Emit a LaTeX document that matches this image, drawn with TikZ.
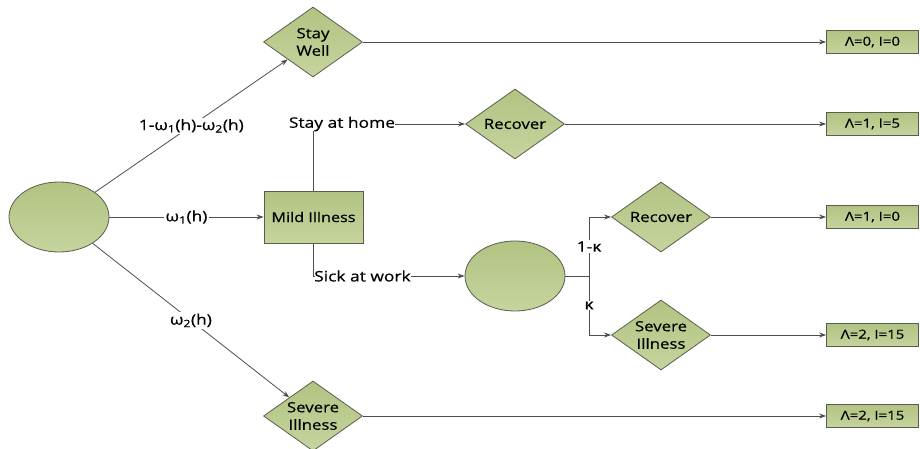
\documentclass[tikz,border=0pt]{standalone}
\usepackage{fontspec}
\setmainfont[FakeStretch=1.2,FakeBold=0.6]{Open Sans}
\usetikzlibrary{positioning}
\usetikzlibrary{shapes.geometric}
\usetikzlibrary {arrows.meta}
\definecolor{leaftop}{RGB}{178,195,130}
\definecolor{leafbot}{RGB}{198,212,158}
\definecolor{leafrim}{RGB}{88,94,76}
\definecolor{wiregrey}{RGB}{78,78,78}
\tikzset{chance/.style={ellipse,draw=leafrim,top color=leaftop,bottom color=leafbot,
line width=0.8pt,minimum width=100pt,minimum height=70pt,inner sep=0pt}}
\tikzset{outcome/.style={diamond,draw=leafrim,top color=leaftop,bottom color=leafbot,
line width=0.8pt,aspect=1.41,minimum width=99pt,minimum height=70pt,inner sep=0pt,
align=center,font=\fontsize{14}{17.5}\selectfont}}
\tikzset{illbox/.style={rectangle,draw=leafrim,top color=leaftop,bottom color=leafbot,
line width=0.8pt,minimum width=99pt,minimum height=52pt,inner sep=0pt,
font=\fontsize{13.5}{17}\selectfont}}
\tikzset{payoff/.style={rectangle,draw=leafrim,top color=leaftop,bottom color=leafbot,
line width=0.8pt,minimum width=92pt,minimum height=23pt,inner sep=0pt,
font=\fontsize{12.5}{14}\selectfont}}
\tikzset{prob/.style={fill=white,inner sep=1.5pt,font=\fontsize{14.5}{17}\selectfont}}
\tikzset{wire/.style={draw=wiregrey,line width=0.8pt}}
\tikzset{wirearr/.style={wire,-{Stealth[length=7pt,width=5pt]}}}

\begin{document}
\begin{tikzpicture}[x=1pt,y=-1pt]
    \useasboundingbox (0,0) rectangle (920,449);

    \node[chance] (root) at (59, 217) {};
    \node[outcome] (stay) at (313, 42) {Stay\\Well};
    \node[illbox] (mild) at (313.5, 217) {Mild Illness};
    \node[outcome] (severe) at (313, 416) {Severe\\Illness};

    \node[outcome] (recA) at (515, 124) {Recover};
    \node[chance] (work) at (515, 276) {};
    \node[outcome] (recB) at (661, 217) {Recover};
    \node[outcome] (sevB) at (661, 335) {Severe\\Illness};

    \node[payoff] (payA) at (872.5, 42) {Λ=0, I=0};
    \node[payoff] (payB) at (872.5, 124) {Λ=1, I=5};
    \node[payoff] (payC) at (872.5, 217) {Λ=1, I=0};
    \node[payoff] (payD) at (872.5, 335) {Λ=2, I=15};
    \node[payoff] (payE) at (872.5, 416) {Λ=2, I=15};

    % branches from the first chance node
    \draw[wirearr] (root) -- node[prob] {1-ω\textsubscript{1}(h)-ω\textsubscript{2}(h)} (stay);
    \draw[wirearr] (root) -- node[prob] {ω\textsubscript{1}(h)} (mild);
    \draw[wirearr] (root) -- node[prob] {ω\textsubscript{2}(h)} (severe);

    % mild illness
    \node[prob, inner sep=0pt] (home) at (342, 124) {Stay at home};
    \draw[wire] (mild.north) -- (mild.north |- home.south);
    \draw[wirearr] (home.east) -- (recA.west);

    \node[prob, inner sep=0pt, anchor=west] (sick) at (314, 276) {Sick at work};
    \draw[wire] (mild.south) |- (sick.west);
    \draw[wirearr] (sick.east) -- (work.west);

    \coordinate (split) at (589, 276);
    \draw[wire] (work.east) -- (split);
    \draw[wirearr] (split) |- node[prob, pos=0.25, inner sep=1pt] {1-κ} (recB.west);
    \draw[wirearr] (split) |- node[prob, pos=0.25, inner sep=1pt] {κ} (sevB.west);

    % to the payoffs
    \draw[wirearr] (stay.east) -- (payA.west);
    \draw[wirearr] (recA.east) -- (payB.west);
    \draw[wirearr] (recB.east) -- (payC.west);
    \draw[wirearr] (sevB.east) -- (payD.west);
    \draw[wirearr] (severe.east) -- (payE.west);

\end{tikzpicture}
\end{document}
